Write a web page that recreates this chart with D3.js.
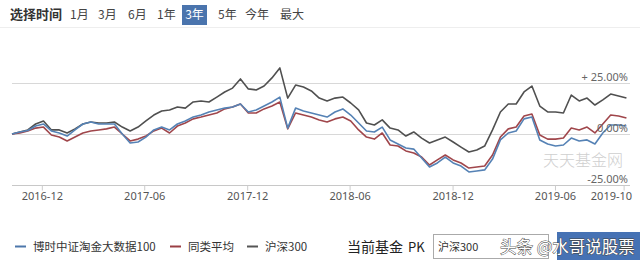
<!DOCTYPE html>
<html>
<head>
<meta charset="utf-8">
<script src="https://cdn.jsdelivr.net/npm/d3@7"></script>
<style>
  html, body { margin: 0; padding: 0; background: #fff; }
  svg { display: block; font-family: "Noto Sans CJK SC", "Noto Sans", sans-serif; }
</style>
</head>
<body>
<script>
// period buttons
var periods = ["1月", "3月", "6月", "1年", "3年", "5年", "今年", "最大"];
var activePeriod = "3年";

// x axis ticks
var tickLabels = ["2016-12", "2017-06", "2017-12", "2018-06", "2018-12", "2019-06", "2019-10"];
var yTicks = [25, 0, -25];
var yTickText = ["+ 25.00%", "0.00%", "-25.00%"];

// one point every two weeks, starting 2016-10-09
var startDate = "2016-10-09";
var endDate = "2019-10-07";

// 沪深300
var hs300 = [0, 1.0, 2.0, 4.9, 6.4, 2.0, 2.0, 0.5, 2.5, 4.9, 5.9, 5.4, 5.4, 5.9, 3.4, 1.5, 3.4, 6.4, 9.3, 11.3,
  11.8, 13.2, 12.7, 15.7, 16.2, 15.7, 18.1, 20.6, 22.5, 27.0, 22.1, 21.6, 23.5, 27.5, 32.4, 17.6, 24.0, 23.0, 21.1, 17.6,
  16.2, 17.6, 18.1, 15.2, 11.8, 5.4, 4.4, 6.9, 2.9, 2.0, -1.0, 1.0, -2.0, -4.4, -2.9, -1.5, -3.9, -6.4, -8.8, -7.8,
  -5.9, 2.0, 10.8, 14.7, 14.7, 20.6, 23.5, 13.7, 10.8, 10.8, 10.3, 19.1, 16.2, 17.6, 14.2, 16.7, 19.6, 18.6, 17.6];

// 博时中证淘金大数据100
var fund = [0, 1.0, 1.7, 3.9, 4.9, 1.5, 0.5, -1.0, 2.0, 4.9, 5.9, 4.9, 4.9, 4.9, 0, -4.4, -3.9, -1.5, 2.0, 3.4,
  2.0, 4.9, 6.4, 8.3, 9.3, 10.8, 11.8, 12.7, 13.2, 14.7, 10.8, 11.8, 13.7, 15.7, 18.1, 2.9, 12.7, 11.3, 10.3, 9.3,
  8.3, 10.8, 12.3, 9.3, 5.4, 1.5, 1.0, 3.4, -2.9, -4.9, -6.9, -7.4, -11.8, -16.2, -14.2, -11.3, -14.2, -15.7, -18.6, -18.1,
  -17.6, -12.3, -2.9, 0.5, 1.5, 7.4, 8.3, -2.9, -4.9, -5.9, -5.4, -2.0, -3.4, -2.9, -4.9, 0.5, 4.4, 4.4, 3.9];

// 同类平均
var peers = [0, 0.5, 1.5, 2.9, 3.4, -0.5, -1.5, -3.4, -1.5, 0.5, 1.5, 2.0, 2.5, 3.4, 0, -3.4, -2.5, -1.0, 1.5, 2.9,
  0.5, 3.9, 5.4, 7.4, 8.3, 9.3, 10.3, 12.3, 13.2, 14.7, 10.3, 10.3, 12.3, 13.7, 15.7, 2.5, 10.3, 9.3, 8.3, 6.9,
  5.9, 7.4, 8.3, 6.4, 2.0, -1.5, -2.5, 0.5, -5.4, -5.9, -8.3, -9.3, -11.3, -15.2, -12.7, -10.3, -12.7, -14.2, -16.7, -16.2,
  -15.7, -10.3, -1.5, 2.5, 3.4, 8.8, 9.8, -0.5, -2.5, -2.5, -2.0, 2.9, 2.0, 3.4, 0.5, 4.9, 9.3, 8.8, 7.8];

var legendNames = ["博时中证淘金大数据100", "同类平均", "沪深300"];
var legendColors = ["#4d77ab", "#9a3f44", "#555555"];

function init() {
    var w = 640, h = 268;
    var svg = d3.select("body").append("svg").attr("width", w).attr("height", h);

    var parse = d3.timeParse("%Y-%m-%d");
    var parseMonth = d3.timeParse("%Y-%m");
    var t0 = parse(startDate), t1 = parse(endDate);
    var dates = d3.timeDay.range(t0, t1, 14);

    var x = d3.scaleTime().domain([t0, t1]).range([12, 627]);
    var y = d3.scaleLinear().domain([-25, 25]).range([185, 83]);

    // header
    svg.append("text").attr("x", 10).attr("y", 19).attr("font-size", 13).attr("font-weight", "bold")
        .attr("fill", "#333").text("选择时间");
    var px = [70, 98, 128, 157, 182, 218, 245, 280];
    periods.forEach(function (p, i) {
        if (p == activePeriod) {
            svg.append("rect").attr("x", px[i]).attr("y", 5).attr("width", 25).attr("height", 20)
                .attr("fill", "#4a74ad");
            svg.append("text").attr("x", px[i] + 12.5).attr("y", 19).attr("text-anchor", "middle")
                .attr("font-size", 12).attr("fill", "#fff").text(p);
        } else {
            svg.append("text").attr("x", px[i]).attr("y", 19).attr("font-size", 12)
                .attr("fill", "#444").text(p);
        }
    });
    svg.append("line").attr("x1", 0).attr("x2", w).attr("y1", 27.5).attr("y2", 27.5)
        .attr("stroke", "#eee");

    // grid
    svg.append("g").selectAll("line").data(yTicks).enter().append("line")
        .attr("x1", 12).attr("x2", 630)
        .attr("y1", function (d) { return Math.round(y(d)) + 0.5; })
        .attr("y2", function (d) { return Math.round(y(d)) + 0.5; })
        .attr("stroke", function (d) { return d == -25 ? "#c8c8c8" : "#d8d8d8"; });

    // watermark
    svg.append("text").attr("x", 583).attr("y", 166).attr("text-anchor", "middle")
        .attr("font-size", 16).attr("fill", "#cfcfcf").attr("font-family", "Noto Sans CJK SC")
        .attr("font-weight", 300).text("天天基金网");

    // x axis
    var xAxis = d3.axisBottom(x)
        .tickValues(tickLabels.map(parseMonth))
        .tickFormat(d3.timeFormat("%Y-%m"))
        .tickSize(5).tickSizeOuter(0);
    var gx = svg.append("g").attr("transform", "translate(0,185.5)").call(xAxis);
    gx.select(".domain").remove();
    gx.selectAll(".tick line").attr("stroke", "#ccc");
    gx.selectAll(".tick text").attr("fill", "#555").attr("font-size", 11)
        .attr("font-family", "Noto Sans, sans-serif").attr("dy", "0.6em");
    // last label kept inside the frame
    gx.selectAll(".tick text").filter(function (d, i) { return i == tickLabels.length - 1; })
        .attr("text-anchor", "end").attr("x", 8);

    // lines
    var series = [hs300, peers, fund];
    var colors = ["#505050", "#a0464b", "#5582b5"];
    var line = d3.line()
        .x(function (d, i) { return x(dates[i]); })
        .y(function (d) { return y(d); });
    series.forEach(function (s, k) {
        svg.append("path").datum(s).attr("d", line).attr("fill", "none")
            .attr("stroke", colors[k]).attr("stroke-width", 1.6).attr("stroke-linejoin", "round");
    });

    // right labels
    svg.append("g").selectAll("text").data(yTicks).enter().append("text")
        .attr("x", 628).attr("y", function (d) { return y(d) - 2; })
        .attr("text-anchor", "end").attr("font-size", 11).attr("fill", "#666")
        .attr("font-family", "Noto Sans, sans-serif")
        .text(function (d, i) { return yTickText[i]; });

    // legend
    var lx = [15, 170, 247];
    legendNames.forEach(function (n, i) {
        svg.append("line").attr("x1", lx[i]).attr("x2", lx[i] + 11).attr("y1", 246.5).attr("y2", 246.5)
            .attr("stroke", legendColors[i]).attr("stroke-width", 2);
        svg.append("text").attr("x", lx[i] + 18).attr("y", 250.5).attr("font-size", 11.5)
            .attr("fill", "#333").text(n);
    });

    svg.append("text").attr("x", 347).attr("y", 252).attr("font-size", 14).attr("fill", "#222").text("当前基金");
    svg.append("text").attr("x", 408).attr("y", 252).attr("font-size", 13).attr("fill", "#222").text("PK");
    svg.append("rect").attr("x", 433.5).attr("y", 234.5).attr("width", 115).attr("height", 24)
        .attr("fill", "#fff").attr("stroke", "#aaa");
    svg.append("text").attr("x", 438).attr("y", 251).attr("font-size", 11).attr("fill", "#333").text("沪深300");
    svg.append("rect").attr("x", 557).attr("y", 232).attr("width", 83).attr("height", 28).attr("fill", "#4672b4");
    svg.append("text").attr("x", 500).attr("y", 253).attr("font-size", 16.5)
        .attr("fill", "#fff").attr("stroke", "#444").attr("stroke-width", 0.9)
        .attr("paint-order", "stroke").text("头条 @水哥说股票");
}

window.onload = init;
</script>
</body>
</html>
